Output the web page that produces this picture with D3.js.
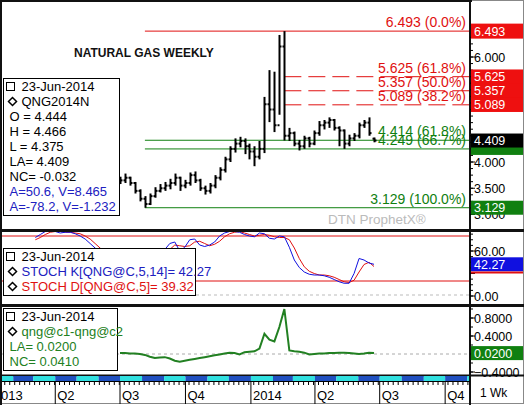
<!DOCTYPE html>
<html><head><meta charset="utf-8">
<script src="https://cdn.jsdelivr.net/npm/d3@7"></script>
<style>body{margin:0;background:#fff}text{font-family:"Liberation Sans",Arial,sans-serif}</style>
</head><body>
<script>
// dati settimanali
var startStoch = new Date(2013, 2, 4);   // prima settimana dello stocastico
var priceStartWeek = 17;                 // 1 luglio 2013
var closes = [3.65,3.70,3.60,3.45,3.30,3.20,3.35,3.45,3.50,3.55,3.60,3.70,3.55,3.60,3.75,3.65,3.50,3.45,3.55,3.70,3.85,4.05,4.25,4.35,4.40,4.30,4.20,4.10,4.25,
  5.10,5.00,4.70,6.20,4.50,
  4.55,4.35,4.30,4.45,4.35,4.55,4.70,4.75,4.80,4.65,4.60,4.35,4.45,4.50,4.70,4.75,4.55,4.409];
var highs = [3.72,3.78,3.72,3.62,3.48,3.35,3.40,3.52,3.58,3.62,3.68,3.78,3.72,3.66,3.80,3.82,3.68,3.55,3.60,3.75,3.90,4.10,4.30,4.45,4.48,4.45,4.35,4.30,4.40,
  5.24,5.75,5.72,6.42,6.493,
  4.65,4.58,4.42,4.50,4.48,4.60,4.78,4.80,4.85,4.82,4.68,4.62,4.52,4.55,4.75,4.80,4.85,4.466];
var lows = [3.58,3.60,3.55,3.40,3.25,3.129,3.18,3.32,3.42,3.45,3.48,3.55,3.45,3.50,3.55,3.60,3.45,3.38,3.40,3.50,3.65,3.80,4.00,4.18,4.28,4.15,4.05,3.92,4.05,
  4.17,4.76,4.57,4.90,4.41,
  4.40,4.30,4.22,4.25,4.28,4.32,4.50,4.62,4.65,4.60,4.30,4.25,4.30,4.40,4.45,4.65,4.50,4.375];
var stochK = [78,82,86,87,86,84,85,85,83,80,76,70,64,58,50,45,50,55,50,35,20,10,12,30,45,55,62,70,72,60,65,75,76,68,66,68,72,80,84,86,86,85,82,80,79,84,83,77,76,80,79,65,48,38,32,29,28,28,27,25,22,19,17,17,30,50,48,44,42.27];
var stochD = [75,78,82,85,86,86,85,85,84,83,80,76,70,64,58,51,48,50,52,47,35,22,14,17,29,43,54,62,68,67,66,67,72,73,70,67,69,73,79,83,85,86,84,82,80,81,82,81,79,78,78,75,64,50,39,33,30,28,28,27,25,22,19,18,21,32,42,45,39.32];
var spread = [0.02,0.02,0.01,0.01,0.0,-0.02,-0.06,-0.09,-0.08,-0.07,-0.10,-0.15,-0.17,-0.15,-0.13,-0.11,-0.09,-0.07,-0.05,-0.03,-0.01,0.01,0.03,0.02,-0.01,0.04,0.05,0.06,0.12,
  0.45,0.32,0.28,0.60,1.00,0.08,0.06,0.05,0.03,-0.01,0.0,0.01,0.01,0.02,0.02,0.03,0.03,0.02,0.01,0.0,0.01,0.03,0.02];
var fibRed = [[6.493,"6.493 (0.0%)"],[5.625,"5.625 (61.8%)"],[5.357,"5.357 (50.0%)"],[5.089,"5.089 (38.2%)"]];
var fibGreen = [[4.414,"4.414 (61.8%)"],[4.249,"4.249 (66.7%)"],[3.129,"3.129 (100.0%)"]];
var priceTicks = [3.0,3.5,4.0,4.5,5.0,5.5,6.0];
var priceLabels = [3.0,3.5,4.0,6.0];
var stochTicks = [0,30,60];
var stochLabels = [0,60];
var spreadTicks = [-0.4,0.4,0.8];
var quarterLabels = [["013",new Date(2013,0,1)],["Q2",new Date(2013,3,1)],["Q3",new Date(2013,6,1)],["Q4",new Date(2013,9,1)],
  ["2014",new Date(2014,0,1)],["Q2",new Date(2014,3,1)],["Q3",new Date(2014,6,1)],["Q4",new Date(2014,9,1)]];

var W = 526, H = 405, plotR = 470;
var svg = d3.select("body").append("svg").attr("width", W).attr("height", H);

var weekDate = function(i){ return d3.timeWeek.offset(startStoch, i); };
var x = d3.scaleTime().domain([new Date(2013,6,1), new Date(2014,5,23)]).range([120, 374]);
var yP = d3.scaleLinear().domain([3, 6]).range([214.5, 57]);
var yS = d3.scaleLinear().domain([0, 60]).range([296, 251]);
var yC = d3.scaleLinear().domain([-0.4, 0.8]).range([372, 318]);

// sfondo e cornici
svg.append("rect").attr("x",0.5).attr("y",0.5).attr("width",523).attr("height",403).attr("fill","#fff").attr("stroke","#888");
svg.append("clipPath").attr("id","cm").append("rect").attr("x",2).attr("y",2).attr("width",plotR-2).attr("height",226);
svg.append("clipPath").attr("id","cs").append("rect").attr("x",2).attr("y",231).attr("width",plotR-2).attr("height",73);
svg.append("clipPath").attr("id","cc").append("rect").attr("x",2).attr("y",306).attr("width",plotR-2).attr("height",69);

// pannello prezzo
var gm = svg.append("g").attr("clip-path","url(#cm)");
var xLow = x(weekDate(priceStartWeek + 5)), xHigh = x(weekDate(priceStartWeek + 33));
fibRed.forEach(function(f, i){
  gm.append("line").attr("x1", i==0 ? xLow : xHigh).attr("x2", plotR).attr("y1", yP(f[0])).attr("y2", yP(f[0]))
    .attr("stroke","#e01010").attr("stroke-width",1).attr("stroke-dasharray", i==0 ? null : "17,7");
  gm.append("text").attr("x",466).attr("y",yP(f[0])-4).attr("text-anchor","end").attr("fill","#e01010").attr("font-size",14).text(f[1]);
});
fibGreen.forEach(function(f){
  gm.append("line").attr("x1", xLow).attr("x2", plotR).attr("y1", yP(f[0])).attr("y2", yP(f[0])).attr("stroke","#108010");
  gm.append("text").attr("x",466).attr("y",yP(f[0])-4).attr("text-anchor","end").attr("fill","#108010").attr("font-size",14).text(f[1]);
});
closes.forEach(function(c, i){
  var xx = Math.round(x(weekDate(priceStartWeek + i))) + 0.5;
  var o = i == closes.length-1 ? 4.444 : (i > 0 ? closes[i-1] : c);
  gm.append("line").attr("x1",xx).attr("x2",xx).attr("y1",yP(highs[i])).attr("y2",yP(lows[i])).attr("stroke","#000").attr("stroke-width",2);
  gm.append("line").attr("x1",xx-2).attr("x2",xx).attr("y1",yP(o)).attr("y2",yP(o)).attr("stroke","#000").attr("stroke-width",2);
  gm.append("line").attr("x1",xx).attr("x2",xx+2).attr("y1",yP(c)).attr("y2",yP(c)).attr("stroke","#000").attr("stroke-width",2);
});
svg.append("text").attr("x",74).attr("y",57).attr("font-weight","bold").attr("font-size",12).attr("fill","#111").text("NATURAL GAS WEEKLY");
svg.append("text").attr("x",328).attr("y",224).attr("font-family","'DejaVu Sans Mono',monospace").attr("font-size",13.5).attr("fill","#bbb").text("DTN ProphetX®");

// pannello stocastico
var gs = svg.append("g").attr("clip-path","url(#cs)");
[20,80].forEach(function(v){ gs.append("line").attr("x1",2).attr("x2",plotR).attr("y1",yS(v)).attr("y2",yS(v)).attr("stroke","#e01010"); });
gs.append("line").attr("x1",190).attr("x2",plotR).attr("y1",yS(0)-1).attr("y2",yS(0)-1).attr("stroke","#bbb").attr("stroke-dasharray","3,3");
var lineS = function(arr){ return d3.line().x(function(d,i){ return x(weekDate(i)); }).y(function(d){ return yS(d); })(arr); };
gs.append("path").attr("d",lineS(stochD)).attr("fill","none").attr("stroke","#e01010");
gs.append("path").attr("d",lineS(stochK)).attr("fill","none").attr("stroke","#1010e0");

// pannello spread
var gc = svg.append("g").attr("clip-path","url(#cc)");
gc.append("line").attr("x1",2).attr("x2",plotR).attr("y1",yC(0)).attr("y2",yC(0)).attr("stroke","#aaa").attr("stroke-dasharray","3,3");
gc.append("path").attr("d", d3.line().x(function(d,i){ return x(weekDate(priceStartWeek+i)); }).y(function(d){ return yC(d); })(spread))
  .attr("fill","none").attr("stroke","#228022").attr("stroke-width",2);

// separatori
[[229,3],[304,3],[374.5,2]].forEach(function(s){
  svg.append("rect").attr("x",0).attr("y",s[0]).attr("width",524).attr("height",s[1]).attr("fill","#111");
});
svg.append("rect").attr("x",plotR-1).attr("y",0).attr("width",2).attr("height",H).attr("fill","#111");
svg.append("rect").attr("x",2).attr("y",0).attr("width",plotR).attr("height",2).attr("fill","#111");
svg.append("rect").attr("x",0).attr("y",0).attr("width",2).attr("height",H).attr("fill","#111");

// assi a destra
function rightAxis(scale, ticks, labels, fmt, y0, y1){
  var minor = d3.range(ticks.length*4).map(function(i){ return ticks[0] + i*(ticks[1]-ticks[0])/4; });
  minor.forEach(function(v){ var yy = scale(v); if(yy>y0 && yy<y1) svg.append("line").attr("x1",plotR).attr("x2",plotR+3).attr("y1",yy).attr("y2",yy).attr("stroke","#000"); });
  ticks.forEach(function(v){ var yy = scale(v); if(yy>y0 && yy<y1){
    svg.append("line").attr("x1",plotR).attr("x2",plotR+5).attr("y1",yy).attr("y2",yy).attr("stroke","#000");
    if(labels.indexOf(v) >= 0) svg.append("text").attr("x",474).attr("y",yy+4.5).attr("font-size",12.5).text(fmt(v)); } });
}
rightAxis(yP, priceTicks, priceLabels, d3.format(".3f"), 4, 228);
rightAxis(yS, stochTicks, stochLabels, d3.format(".2f"), 232, 303);
rightAxis(yC, spreadTicks, spreadTicks, d3.format(".4f"), 307, 374);

function tag(yy, txt, bg, fg, h){
  svg.append("rect").attr("x",plotR+1).attr("y",yy-h/2).attr("width",52).attr("height",h).attr("fill",bg);
  svg.append("text").attr("x",474).attr("y",yy+4.5).attr("fill",fg).attr("font-size",12.5).text(txt);
}
tag(yP(6.493),"6.493","#ee1010","#fff",15);
svg.append("rect").attr("x",plotR+1).attr("y",yP(5.625)-7).attr("width",52).attr("height",yP(5.089)-yP(5.625)+14).attr("fill","#ee1010");
fibRed.slice(1).forEach(function(f){ tag(yP(f[0]), f[0].toFixed(3), "#ee1010", "#fff", 14); });
svg.append("rect").attr("x",plotR+1).attr("y",yP(4.249)-3).attr("width",52).attr("height",9).attr("fill","#108010");
tag(yP(4.409),"4.409","#000","#fff",14);
tag(yP(3.129),"3.129","#108010","#fff",14);
tag(yS(42.27),"42.27","#1010e0","#fff",14);
svg.append("line").attr("x1",plotR+1).attr("x2",523).attr("y1",yS(39.32)+6).attr("y2",yS(39.32)+6).attr("stroke","#e01010").attr("stroke-width",2);
tag(yC(0.02),"0.0200","#108010","#fff",14);

// barra dei mesi e asse temporale
var months = d3.timeMonth.range(new Date(2012,11,1), new Date(2014,11,1));
months.forEach(function(m, i){
  var x0 = Math.max(2, x(m)), x1 = Math.min(plotR-1, x(d3.timeMonth.offset(m,1)));
  if(x1 > x0) svg.append("rect").attr("x",x0).attr("y",376).attr("width",x1-x0).attr("height",5).attr("fill", i%2 ? "#30e0e0" : "#2050c0");
});
svg.append("rect").attr("x",2).attr("y",381).attr("width",plotR-2).attr("height",1).attr("fill","#000");
d3.timeWeek.range(new Date(2012,11,1), new Date(2014,11,1)).forEach(function(d){
  var xx = x(d); if(xx>2 && xx<plotR) svg.append("line").attr("x1",xx).attr("x2",xx).attr("y1",382).attr("y2",385).attr("stroke","#000");
});
quarterLabels.forEach(function(q){
  var xx = x(q[1]);
  svg.append("line").attr("x1",xx).attr("x2",xx).attr("y1",382).attr("y2",404).attr("stroke","#000");
  svg.append("text").attr("x", q[0]=="013" ? 1 : xx+2).attr("y",400).attr("font-size",13).text(q[0]);
});
svg.append("text").attr("x",480).attr("y",397).attr("font-family","'DejaVu Sans Mono',monospace").attr("font-size",12).text("1 Wk");

// legende
function legend(x0, y0, w, h, lines){
  svg.append("rect").attr("x",x0).attr("y",y0).attr("width",w).attr("height",h).attr("fill","#fff").attr("stroke","#000");
  lines.forEach(function(l, i){
    var yy = y0 + 12 + i*15;
    if(l[2]=="q"){ svg.append("rect").attr("x",x0+3).attr("y",yy-8).attr("width",8).attr("height",8).attr("fill","none").attr("stroke","#000"); }
    if(l[2]=="d"){ svg.append("path").attr("d","M"+(x0+9)+","+(yy-8)+"l4,4l-4,4l-4,-4z").attr("fill","none").attr("stroke","#000").attr("stroke-width",1.5); }
    svg.append("text").attr("x", x0 + (l[2] ? 18 : 6)).attr("y",yy).attr("font-size",13).attr("fill",l[1]).text(l[0]);
  });
}
legend(3.5,78.5,116,137,[["23-Jun-2014","#000","q"],["QNG2014N","#000","d"],["O = 4.444","#000"],["H = 4.466","#000"],["L = 4.375","#000"],
  ["LA= 4.409","#000"],["NC= -0.032","#000"],["A=50.6, V=8.465","#2020c0"],["A=-78.2, V=-1.232","#2020c0"]]);
legend(3.5,248.5,192,47,[["23-Jun-2014","#000","q"],["STOCH K[QNG@C,5,14]= 42.27","#2020c0","d"],["STOCH D[QNG@C,5]= 39.32","#e01010","d"]]);
legend(3.5,308.5,114,62,[["23-Jun-2014","#000","q"],["qng@c1-qng@c2","#228022","d"],["LA= 0.0200","#228022"],["NC= 0.0410","#228022"]]);
</script>
</body></html>
